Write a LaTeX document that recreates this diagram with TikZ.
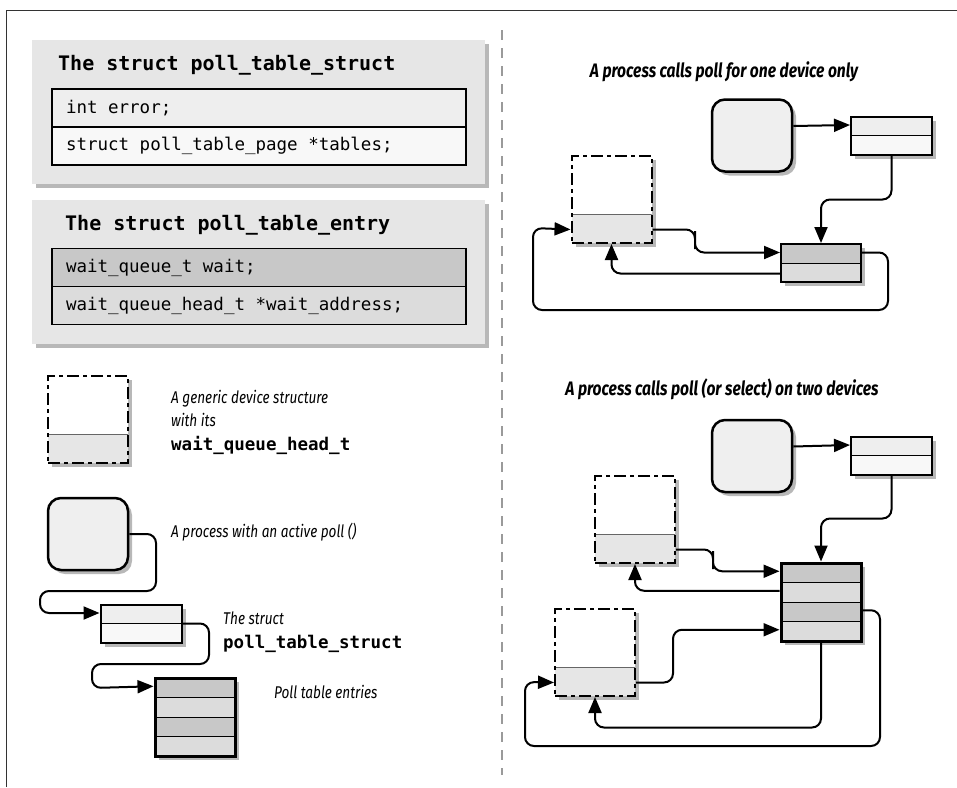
\documentclass[tikz,border=0pt]{standalone}
\usepackage{fontspec}
\setmonofont{DejaVu Sans Mono}
\newfontfamily\labelfont[FakeStretch=0.8]{Fira Sans}
\usetikzlibrary{positioning,arrows.meta,shadows,calc}

\definecolor{panelgray}{HTML}{E6E6E6}
\definecolor{rowlight}{HTML}{EEEEEE}
\definecolor{rowwhite}{HTML}{F8F8F8}
\definecolor{rowdark}{HTML}{C8C8C8}
\definecolor{rowmid}{HTML}{DCDCDC}
\definecolor{devgray}{HTML}{E6E6E6}
\definecolor{procgray}{HTML}{EFEFEF}
\definecolor{framegray}{HTML}{333333}
\definecolor{sepgray}{HTML}{9A9A9A}

\tikzset{
  shade box/.style={drop shadow={shadow xshift=4pt, shadow yshift=-4pt, fill=black, opacity=0.28}},
  panel/.style={fill=panelgray, minimum width=453pt, minimum height=144pt, inner sep=0pt, shade box},
  % code lines keep full-cell spaces
  row/.style={draw, line width=1.2pt, minimum height=38pt, text width=386pt, inner xsep=14pt, align=left,
    inner ysep=0pt, outer sep=0pt, font=\fontsize{17.5}{20}\selectfont\ttfamily,
    execute at begin node={\spaceskip=0pt\xspaceskip=0pt\relax}},
  panel title/.style={anchor=base west, inner sep=0pt, font=\fontsize{20}{24}\selectfont\ttfamily\bfseries},
  label text/.style={inner sep=0pt, font=\fontsize{17}{23.5}\selectfont\labelfont\itshape},
  diagram title/.style={anchor=base, inner sep=0pt, font=\fontsize{19.5}{24}\selectfont\labelfont\bfseries\itshape},
  proc/.style={draw, line width=2.5pt, rounded corners=13pt, fill=procgray, minimum width=80pt,
    minimum height=72pt, inner sep=0pt, shade box},
  pstruct/.style={draw, line width=2pt, fill=rowlight, minimum width=81pt, minimum height=38pt,
    inner sep=0pt, shade box,
    path picture={
      \fill[rowwhite] (path picture bounding box.west) rectangle (path picture bounding box.south east);
      \draw[line width=1pt] (path picture bounding box.west) -- (path picture bounding box.east);
    }},
  entry2/.style={draw, line width=2pt, fill=rowmid, minimum width=80pt, minimum height=38pt,
    inner sep=0pt, shade box,
    path picture={
      \fill[rowdark] (path picture bounding box.north west) rectangle (path picture bounding box.east);
      \draw[line width=1pt] (path picture bounding box.west) -- (path picture bounding box.east);
    }},
  entries/.style={draw, line width=3pt, fill=rowmid, minimum width=80pt, minimum height=78pt,
    inner sep=0pt, shade box,
    path picture={
      \foreach \a/\b in {0/.25,.5/.75}
        \fill[rowdark] ($(path picture bounding box.north west)!\a!(path picture bounding box.south west)$)
          rectangle ($(path picture bounding box.north east)!\b!(path picture bounding box.south east)$);
      \foreach \a in {.25,.5,.75}
        \draw[line width=1pt] ($(path picture bounding box.north west)!\a!(path picture bounding box.south west)$)
          -- ($(path picture bounding box.north east)!\a!(path picture bounding box.south east)$);
    }},
  device/.style={draw, line width=2pt, dash pattern=on 12pt off 4pt on 4pt off 4pt, fill=white,
    minimum width=80pt, minimum height=87pt, inner sep=0pt, shade box,
    path picture={
      \fill[devgray] ($(path picture bounding box.north west)!.667!(path picture bounding box.south west)$)
        rectangle (path picture bounding box.south east);
      \draw[solid, line width=1pt, black!60] ($(path picture bounding box.north west)!.667!(path picture bounding box.south west)$)
        -- ($(path picture bounding box.north east)!.667!(path picture bounding box.south east)$);
    }},
  link/.style={line width=2pt, rounded corners=9pt},
  ptr/.style={link, -{Triangle[length=16pt,width=13pt]}},
}

\begin{document}
\begin{tikzpicture}[x=1pt, y=-1pt]
  \useasboundingbox (0,0) rectangle (957,787);
  % frame and separator
  \draw[framegray, line width=1pt] (6.5,787) -- (6.5,10.5) -- (957,10.5);
  \draw[sepgray, line width=2pt, dash pattern=on 10pt off 8pt] (502,30) -- (502,775);

  % the two struct panels
  \node[panel] (panel1) at (258.5,112) {};
  \node[panel title] (title1) at (58,70) {The struct poll\_table\_struct};
  \node[row, fill=rowlight] (error) at (259,108) {int error;};
  \node[row, fill=rowwhite, below=0pt of error] (tables) {struct poll\_table\_page *tables;};

  \node[panel] (panel2) at (258.5,272) {};
  \node[panel title] (title2) at (65,230) {The struct poll\_table\_entry};
  \node[row, fill=rowdark] (wait) at (259,267.5) {wait\_queue\_t wait;};
  \node[row, fill=rowmid, below=0pt of wait] (waitaddr) {wait\_queue\_head\_t *wait\_address;};

  % legend
  \node[device] (ldev) at (88,419.5) {};
  \node[label text, anchor=north west, align=left] (ldevtxt) at (171,390)
    {A generic device structure\\with its\\{\fontsize{17.5}{23.5}\selectfont\ttfamily\bfseries\upshape wait\_queue\_head\_t}};
  \node[proc] (lproc) at (88,534) {};
  \node[label text, anchor=base west] (lproctxt) at (171,537) {A process with an active poll ()};
  \node[pstruct] (lstruct) at (141,623.5) {};
  \node[label text, anchor=north west, align=left] (lstructtxt) at (223,612)
    {The struct\\{\fontsize{17.5}{23.5}\selectfont\ttfamily\bfseries\upshape poll\_table\_struct}};
  \node[entries] (lent) at (195,717) {};
  \node[label text, anchor=base west] (lenttxt) at (274,698) {Poll table entries};

  \draw[ptr] (lproc.east) -| (156,591) -| (40,613) -- ([yshift=-9.5pt]lstruct.north west);
  \draw[ptr] (lstruct.east) -| (209,664) -| (92,688) -- ([yshift=-9.75pt]lent.north west);

  % one device
  \node[diagram title] (ttop) at (724,77) {A process calls poll for one device only};
  \node[proc] (rproc) at (752,135.5) {};
  \node[pstruct] (rstruct) at (891.5,135.5) {};
  \node[entry2] (rentry) at (821,263) {};
  \node[device] (rdev) at (611.5,199.5) {};

  \draw[ptr] ([yshift=9.5pt]rproc.east) -- ([yshift=-9.5pt]rstruct.north west);
  \draw[ptr] (rstruct.south) -- ++(0,44) -| (rentry.north);
  \draw[ptr] ([yshift=14.5pt]rdev.south east) -| (695,240) |- ([yshift=-9.5pt]rentry.north west);
  \draw[ptr] ([yshift=9.5pt]rentry.south west) -| (rdev.south);
  \draw[ptr] ([yshift=-9.5pt]rentry.north east) -| (888,310) -| (533,228) -- ([yshift=14.5pt]rdev.south west);

  % two devices
  \node[diagram title] (tbot) at (722,395) {A process calls poll (or select) on two devices};
  \node[proc] (bproc) at (752,456) {};
  \node[pstruct] (bstruct) at (891.5,455.5) {};
  \node[entries] (bent) at (821,602) {};
  \node[device] (bdev1) at (635,519.5) {};
  \node[device] (bdev2) at (595,652.5) {};

  \draw[ptr] ([yshift=9.5pt]bproc.east) -- ([yshift=-9.5pt]bstruct.north west);
  \draw[ptr] (bstruct.south) -- ++(0,43) -| (bent.north);
  \draw[ptr] ([yshift=14.5pt]bdev1.south east) -| (713,560) |- ([yshift=-9.75pt]bent.north west);
  \draw[ptr] ([yshift=-29.25pt]bent.north west) -| (bdev1.south);
  \draw[ptr] ([yshift=14.5pt]bdev2.south east) -| (673,650) |- ([yshift=-68.25pt]bent.north west);
  \draw[ptr] (bent.south) -- ++(0,85) -| (bdev2.south);
  \draw[ptr] ([yshift=-48.75pt]bent.north east) -| (880,746) -| (525,682) -- ([yshift=14.5pt]bdev2.south west);
\end{tikzpicture}
\end{document}
